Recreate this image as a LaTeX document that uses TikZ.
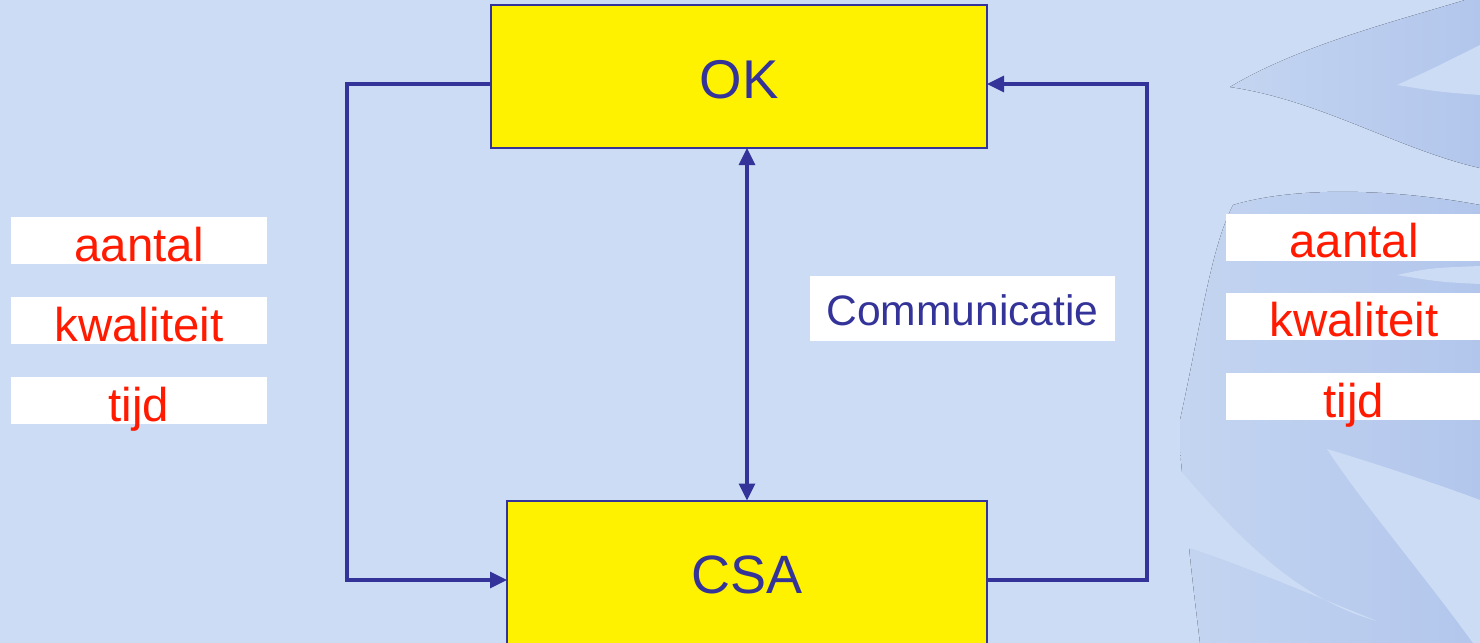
\documentclass[tikz,border=0pt]{standalone}
\usepackage{fontspec}
\setmainfont{Liberation Sans}
\usetikzlibrary{positioning,arrows.meta}
\definecolor{slide}{HTML}{CCDCF4}
\definecolor{frondlight}{HTML}{C4D5F1}
\definecolor{frond}{HTML}{B2C6EC}
\definecolor{ink}{HTML}{333399}
\definecolor{signal}{HTML}{FF1A00}
\tikzset{
    every node/.style = {
        inner sep = 0pt,
        outer sep = 0pt
    },
    party/.style = {
        draw = ink,
        line width = 1pt,
        fill = yellow,
        text = ink
    },
    factor/.style = {
        fill = white,
        text = signal,
        minimum width = 128pt,
        text height = 22pt,
        text depth = 1.5pt,
        font = \fontsize{23.7}{28}\selectfont
    },
    leaf/.style = {
        left color = frondlight,
        right color = frond
    },
    flow/.style = {
        ->,
        > = {Triangle[length=8.5pt,width=8pt]},
        draw = ink,
        line width = 1.6pt
    }
}

\begin{document}
\begin{tikzpicture}[
        x = 0.5pt,
        y = -0.5pt,
    ]{
        \useasboundingbox (0,0) rectangle (1480,643);
        \clip (0,0) rectangle (1480,643);
        \fill[slide] (0,0) rectangle (1480,643);
        % leaves in the background
        \fill[leaf] (1230,87) .. controls (1300,45) and (1400,20) .. (1465,0)
            -- (1480,0) -- (1480,168)
            .. controls (1400,150) and (1320,100) .. (1230,87) -- cycle;
        \fill[slide] (1397,85) .. controls (1430,70) .. (1480,45) -- (1480,95)
            .. controls (1440,92) .. (1397,85) -- cycle;
        \fill[leaf] (1233,205) .. controls (1300,185) and (1400,190) .. (1480,205)
            -- (1480,643) -- (1200,643) .. controls (1190,560) .. (1180,450)
            -- (1180,420) .. controls (1200,330) and (1210,250) .. (1233,205) -- cycle;
        \fill[slide] (1397,275) .. controls (1430,268) .. (1480,266) -- (1480,284)
            .. controls (1440,282) .. (1397,275) -- cycle;
        \fill[slide] (1327,449) .. controls (1380,465) and (1440,485) .. (1480,500)
            -- (1480,643) -- (1473,643)
            .. controls (1420,570) and (1360,500) .. (1327,449) -- cycle;
        \fill[slide] (1180,470) .. controls (1240,540) and (1300,600) .. (1377,621)
            .. controls (1300,590) and (1230,560) .. (1180,545) -- cycle;

        \node at (739,76.5) [
            party,
            minimum width = 248pt,
            text height = 46.5pt,
            text depth = 25pt,
            font = \fontsize{27.3}{32}\selectfont
        ] (ok) {OK};
        \node at (747,580) [
            party,
            minimum width = 240pt,
            text height = 46.5pt,
            text depth = 33pt,
            font = \fontsize{27}{32}\selectfont
        ] (csa) {CSA};
        \node at (962.5,308.5) [
            fill = white,
            text = ink,
            minimum width = 152.5pt,
            text height = 24.5pt,
            text depth = 8pt,
            font = \fontsize{21.3}{25}\selectfont
        ] (comm) {Communicatie};

        \node at (139,240.5) [factor] (aantalL) {aantal};
        \node at (139,320.5) [factor] (kwaliteitL) {kwaliteit};
        \node at (139,400.5) [factor] (tijdL) {tijd};
        \node at (1354,237) [factor] (aantalR) {aantal};
        \node at (1354,316) [factor] (kwaliteitR) {kwaliteit};
        \node at (1354,396.5) [factor] (tijdR) {tijd};

        \coordinate (lbend) at (347,580);
        \coordinate (rbend) at (1147,84);
        \draw[flow] ([yshift=-3.75pt]ok.west) -| (lbend) -- (csa.west);
        \draw[flow] (csa.east) -| (rbend) -- ([yshift=-3.75pt]ok.east);
        \draw[flow,<->] (ok.south -| csa.north) -- (csa.north);
    }
\end{tikzpicture}
\end{document}
